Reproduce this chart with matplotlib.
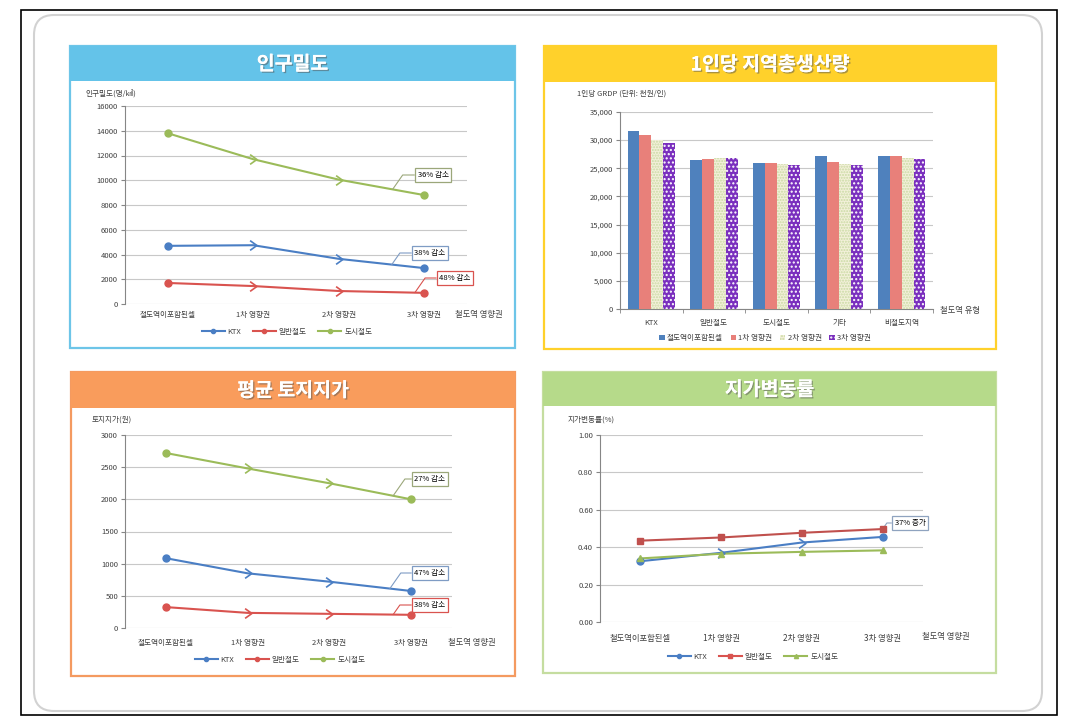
import numpy as np
import matplotlib
matplotlib.use("Agg")
import matplotlib.pyplot as plt
import matplotlib.patheffects as pe
from matplotlib.patches import Rectangle, FancyBboxPatch
from matplotlib.lines import Line2D
from matplotlib.path import Path
from matplotlib.ticker import FuncFormatter

plt.rcParams['font.family'] = ['Noto Sans CJK KR', 'DejaVu Sans']
plt.rcParams['hatch.linewidth'] = 1.0

# ---- data ----
zones = ['철도역이포함된셀', '1차 영향권', '2차 영향권', '3차 영향권']
lines = ['KTX', '일반철도', '도시철도']

# 인구밀도 (명/㎢)
density_ktx = [4700, 4750, 3650, 2900]
density_gen = [1700, 1450, 1050, 900]
density_urb = [13800, 11700, 10050, 8800]

# 1인당 GRDP (천원/인)
grdp_types = ['KTX', '일반철도', '도시철도', '기타', '비철도지역']
grdp_cell = [31700, 26400, 26000, 27100, 27200]
grdp_1st = [31000, 26700, 26000, 26100, 27100]
grdp_2nd = [30000, 26800, 25800, 25800, 26900]
grdp_3rd = [29500, 26800, 25600, 25500, 26700]

# 평균 토지지가 (원)
land_ktx = [1085, 850, 720, 575]
land_gen = [325, 235, 220, 205]
land_urb = [2720, 2480, 2250, 2000]

# 지가변동률 (%)
rate_ktx = [0.325, 0.37, 0.425, 0.455]
rate_gen = [0.435, 0.452, 0.477, 0.497]
rate_urb = [0.34, 0.365, 0.375, 0.383]

W, H = 1092, 726
c_ktx, c_gen, c_urb = '#4A7EC4', '#D9534F', '#9BBB59'
txt = '#404040'
fs = 5.5

fig = plt.figure(figsize=(W / 100, H / 100), dpi=100)


def fr(x0, y0, x1, y1):
    return [x0 / W, 1 - y1 / H, (x1 - x0) / W, (y1 - y0) / H]


bg = fig.add_axes([0, 0, 1, 1], zorder=0)
bg.set_xlim(0, W)
bg.set_ylim(H, 0)
bg.axis('off')

bg.add_patch(Rectangle((21, 10), 1036, 705, fill=False, ec='black', lw=1.2))
bg.add_patch(FancyBboxPatch((34, 15), 1008, 696, boxstyle='round,pad=0,rounding_size=20',
                            fc='white', ec='#D2D2D2', lw=1.5))

panels = [
    (70, 46, 515, 81, 348, '#64C3E9', '#6DC5E8', '인구밀도'),
    (544, 46, 996, 82, 349, '#FFD12B', '#FFD12B', '1인당 지역총생산량'),
    (71, 372, 515, 408, 676, '#F99C5C', '#F49A60', '평균 토지지가'),
    (543, 372, 996, 406, 673, '#B6DA8A', '#C5DDA0', '지가변동률'),
]
for x0, y0, x1, hy, y1, col, edge, title in panels:
    bg.add_patch(Rectangle((x0, y0), x1 - x0, y1 - y0, fc='white', ec=edge, lw=1.6))
    bg.add_patch(Rectangle((x0, y0), x1 - x0, hy - y0, fc=col, ec='none'))
    bg.text((x0 + x1) / 2, (y0 + hy) / 2 + 1, title, color='white', fontsize=14,
            fontweight='bold', ha='center', va='center',
            path_effects=[pe.withSimplePatchShadow(offset=(1, -1), shadow_rgbFace='#555555', alpha=0.5),
                          pe.Normal()])

chev = Path([(-0.7, 1), (0.7, 0), (-0.7, -1)], [Path.MOVETO, Path.LINETO, Path.LINETO])


def style(ax, pad):
    for s in ['top', 'right', 'bottom']:
        ax.spines[s].set_visible(False)
    ax.spines['left'].set_color('#868686')
    ax.spines['left'].set_linewidth(0.8)
    ax.grid(axis='y', color='#C8C8C8', lw=0.8)
    ax.set_axisbelow(True)
    ax.tick_params(axis='x', length=0, labelsize=fs, labelcolor=txt, pad=pad)
    ax.tick_params(axis='y', length=3, color='#868686', labelsize=fs, labelcolor=txt, pad=2)
    ax.patch.set_alpha(0)


def line_chart(ax, series, colors, markers_end):
    x = np.arange(len(zones))
    for vals, c, m in zip(series, colors, markers_end):
        ax.plot(x, vals, color=c, lw=1.5, zorder=3)
        if m == 'o':
            ax.plot(x, vals, ls='none', marker='o', ms=5, color=c, markevery=[0, 3], zorder=4)
            ax.plot(x, vals, ls='none', marker=chev, ms=7, mfc='none', mec=c, mew=1.2,
                    markevery=[1, 2], zorder=4)
        else:
            ax.plot(x, vals, ls='none', marker=m, ms=5, color=c, zorder=4)
    ax.set_xlim(-0.5, len(zones) - 0.5)
    ax.set_xticks(x)
    ax.set_xticklabels(zones)


def note(ax, text, xa, vals, box, ec):
    x = np.arange(len(vals))
    ya = np.interp(xa, x, vals)
    ax.annotate(text, xy=(xa, ya), xytext=box, textcoords=bg.transData,
                fontsize=fs, color='black', ha='center', va='center', annotation_clip=False,
                bbox=dict(boxstyle='square,pad=0.35', fc='white', ec=ec, lw=0.9),
                arrowprops=dict(arrowstyle='-', color=ec, lw=0.8, relpos=(0, 0.5),
                                shrinkA=0, shrinkB=0,
                                connectionstyle='angle,angleA=0,angleB=55,rad=0'))


def legend_lines(ax, center, markers):
    hs = [Line2D([], [], color=c, lw=1.5, marker=m, ms=3)
          for c, m in zip([c_ktx, c_gen, c_urb], markers)]
    ax.legend(hs, lines, loc='center', bbox_to_anchor=(center[0] / W, 1 - center[1] / H),
              bbox_transform=fig.transFigure, ncol=3, frameon=False, fontsize=fs,
              handlelength=3, columnspacing=1.5, handletextpad=0.4,
              labelcolor=txt)


# ---- 인구밀도 ----
ax1 = fig.add_axes(fr(125, 106, 467, 304), zorder=2)
style(ax1, 5)
line_chart(ax1, [density_ktx, density_gen, density_urb], [c_ktx, c_gen, c_urb], ['o'] * 3)
ax1.set_ylim(0, 16000)
ax1.set_yticks(np.arange(0, 16001, 2000))
bg.text(85, 94, '인구밀도(명/㎢)', fontsize=fs, color=txt, va='center')
bg.text(455, 315, '철도역 영향권', fontsize=6, color=txt, va='center')
note(ax1, '36% 감소', 2.63, density_urb, (433, 175), '#9BA77A')
note(ax1, '38% 감소', 2.62, density_ktx, (430, 253), '#7F9CC4')
note(ax1, '48% 감소', 2.89, density_gen, (455, 278), '#D9534F')
legend_lines(ax1, (287, 332), ['o', 'o', 'o'])

# ---- 1인당 GRDP ----
ax2 = fig.add_axes(fr(620, 112, 933, 309), zorder=2)
style(ax2, 7)
xg = np.arange(len(grdp_types))
bw = 0.19
specs = [
    (grdp_cell, dict(color='#4F81BD'), '철도역이포함된셀'),
    (grdp_1st, dict(color='#E8807A'), '1차 영향권'),
    (grdp_2nd, dict(fc='#F3F0DA', ec='#C9DAA3', hatch='......', lw=0), '2차 영향권'),
    (grdp_3rd, dict(fc='#7A2FBE', ec='white', hatch='....', lw=0), '3차 영향권'),
]
for i, (vals, kw, lab) in enumerate(specs):
    ax2.bar(xg + (i - 1.5) * bw, vals, bw, label=lab, zorder=3, **kw)
ax2.set_xlim(-0.5, len(grdp_types) - 0.5)
ax2.set_ylim(0, 35000)
ax2.set_yticks(np.arange(0, 35001, 5000))
ax2.yaxis.set_major_formatter(FuncFormatter(lambda v, p: f'{int(v):,}'))
ax2.set_xticks(xg)
ax2.set_xticklabels(grdp_types)
ax2.spines['bottom'].set_visible(True)
ax2.spines['bottom'].set_color('#868686')
ax2.spines['bottom'].set_linewidth(0.8)
ax2.set_xticks(np.arange(-0.5, len(grdp_types)), minor=True)
ax2.tick_params(axis='x', which='minor', length=3, color='#868686')
bg.text(577, 94, '1인당 GRDP (단위: 천원/인)', fontsize=fs, color=txt, va='center')
bg.text(940, 310, '철도역 유형', fontsize=6, color=txt, va='center')
ax2.legend(loc='center', bbox_to_anchor=(765 / W, 1 - 338 / H), bbox_transform=fig.transFigure,
           ncol=4, frameon=False, fontsize=fs, handlelength=0.7, handleheight=0.7,
           handletextpad=0.3, columnspacing=1.0, labelcolor=txt)

# ---- 평균 토지지가 ----
ax3 = fig.add_axes(fr(125, 435, 452, 628), zorder=2)
style(ax3, 8)
line_chart(ax3, [land_ktx, land_gen, land_urb], [c_ktx, c_gen, c_urb], ['o'] * 3)
ax3.set_ylim(0, 3000)
ax3.set_yticks(np.arange(0, 3001, 500))
bg.text(92, 420, '토지지가(원)', fontsize=fs, color=txt, va='center')
bg.text(448, 642, '철도역 영향권', fontsize=6, color=txt, va='center')
note(ax3, '27% 감소', 2.78, land_urb, (430, 479), '#9BA77A')
note(ax3, '47% 감소', 2.74, land_ktx, (430, 573), '#7F9CC4')
note(ax3, '38% 감소', 2.78, land_gen, (430, 605), '#D9534F')
legend_lines(ax3, (280, 660), ['o', 'o', 'o'])

# ---- 지가변동률 ----
ax4 = fig.add_axes(fr(600, 435, 923, 622), zorder=2)
style(ax4, 9)
line_chart(ax4, [rate_ktx, rate_gen, rate_urb], [c_ktx, '#C0504D', c_urb], ['o', 's', '^'])
ax4.set_ylim(0, 1.0)
ax4.set_yticks(np.arange(0, 1.01, 0.2))
ax4.yaxis.set_major_formatter(FuncFormatter(lambda v, p: f'{v:.2f}'))
ax4.tick_params(axis='x', labelsize=6)
bg.text(568, 420, '지가변동률(%)', fontsize=fs, color=txt, va='center')
bg.text(922, 637, '철도역 영향권', fontsize=6, color=txt, va='center')
note(ax4, '37% 증가', 3.0, rate_gen, (910, 523), '#8FA3BF')
legend_lines(ax4, (753, 657), ['o', 's', '^'])

fig.savefig('out.png', dpi=100)
